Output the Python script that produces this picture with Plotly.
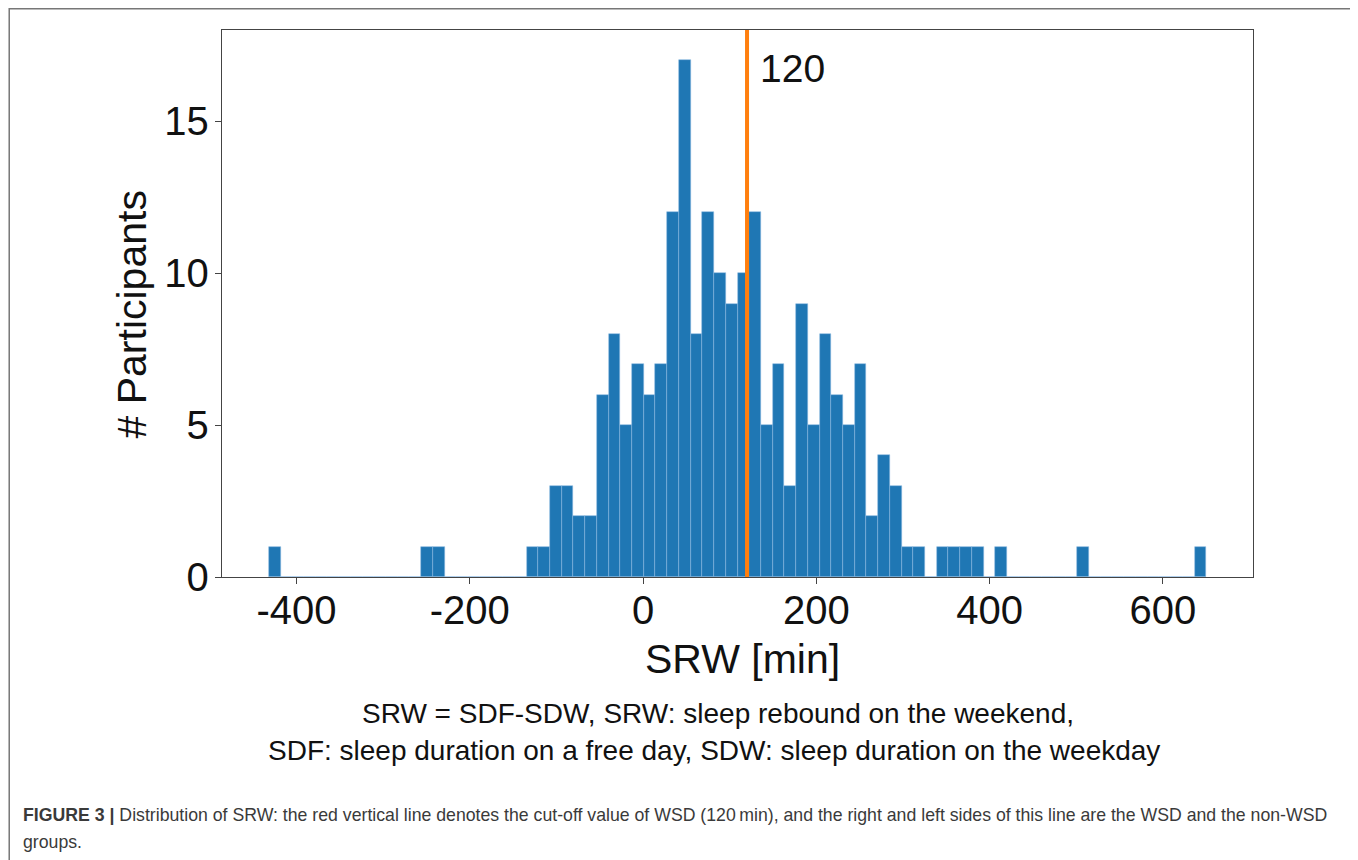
import numpy as np
import plotly.graph_objects as go

# ---- data ----
DATA_MIN = -432.0
DATA_MAX = 650.0
N_BINS = 80
counts = [
    1, 0, 0, 0, 0, 0, 0, 0, 0, 0,      # bins 0-9
    0, 0, 0, 1, 1, 0, 0, 0, 0, 0,      # bins 10-19
    0, 0, 1, 1, 3, 3, 2, 2, 6, 8,      # bins 20-29
    5, 7, 6, 7, 12, 17, 8, 12, 10, 9,  # bins 30-39
    10, 12, 5, 7, 3, 9, 5, 8, 6, 5,    # bins 40-49
    7, 2, 4, 3, 1, 1, 0, 1, 1, 1,      # bins 50-59
    1, 0, 1, 0, 0, 0, 0, 0, 0, 1,      # bins 60-69
    0, 0, 0, 0, 0, 0, 0, 0, 0, 1,      # bins 70-79
]
cutoff = 120
x_ticks = [-400, -200, 0, 200, 400, 600]
x_tick_labels = ["-400", "-200", "0", "200", "400", "600"]
y_ticks = [0, 5, 10, 15]

edges = np.linspace(DATA_MIN, DATA_MAX, N_BINS + 1)
centers = (edges[:-1] + edges[1:]) / 2
bin_w = edges[1] - edges[0]

# the page body has an 8px default margin, so work in shifted coordinates
OFF = 8
W, H = 1358 - OFF, 860 - OFF
L, R, T, B = 221.7 - OFF, 1253.3 - OFF, 30.0 - OFF, 576.7 - OFF
FONT = "Liberation Sans, Arial, Helvetica, sans-serif"


def px(x):
    return (x - OFF - L) / (R - L)


def py(y):
    return (B - (y - OFF)) / (B - T)


fig = go.Figure()
fig.add_trace(go.Bar(
    x=centers, y=counts, width=bin_w,
    marker=dict(color="#1f77b4", line=dict(color="rgba(140,185,225,0.9)", width=0.6)),
    showlegend=False,
))

fig.add_shape(type="line", xref="x", yref="paper", x0=cutoff, x1=cutoff, y0=0, y1=1,
              line=dict(color="#ff7f0e", width=4), layer="above")

axis_common = dict(
    showline=True, mirror=True, linecolor="#444", linewidth=1.3,
    ticks="outside", ticklen=6, tickwidth=1.2, tickcolor="#444",
    showgrid=False, zeroline=False,
    tickfont=dict(family=FONT, size=40, color="#111"),
)
fig.update_xaxes(range=[-486, 704], tickvals=x_ticks, ticktext=x_tick_labels,
                 ticklabelstandoff=-8, **axis_common)
fig.update_yaxes(range=[0, 18], tickvals=y_ticks, ticklabelstandoff=-2, **axis_common)

ann = []
ann.append(dict(text="120", x=133, xref="x", y=py(68), yref="paper",
                xanchor="left", yanchor="middle", showarrow=False,
                font=dict(family=FONT, size=39, color="#111")))
ann.append(dict(text="SRW [min]", x=px(743), y=py(659), xref="paper", yref="paper",
                xanchor="center", yanchor="middle", showarrow=False,
                font=dict(family=FONT, size=41, color="#111")))
ann.append(dict(text="# Participants", x=px(132), y=py(314), xref="paper", yref="paper",
                xanchor="center", yanchor="middle", showarrow=False, textangle=-90,
                font=dict(family=FONT, size=41, color="#111")))
ann.append(dict(text="SRW = SDF-SDW, SRW: sleep rebound on the weekend,",
                x=px(718), y=py(713), xref="paper", yref="paper",
                xanchor="center", yanchor="middle", showarrow=False,
                font=dict(family=FONT, size=28, color="#111")))
ann.append(dict(text="SDF: sleep duration on a free day, SDW: sleep duration on the weekday",
                x=px(714), y=py(750), xref="paper", yref="paper",
                xanchor="center", yanchor="middle", showarrow=False,
                font=dict(family=FONT, size=28, color="#111")))
ann.append(dict(text="<b>FIGURE 3 |</b> Distribution of SRW: the red vertical line denotes the cut-off value of WSD (120\u2009min), and the right and left sides of this line are the WSD and the non-WSD",
                x=px(21), y=py(815), xref="paper", yref="paper",
                xanchor="left", yanchor="middle", showarrow=False,
                font=dict(family=FONT, size=17.7, color="#3a3a3a")))
ann.append(dict(text="groups.",
                x=px(21), y=py(842), xref="paper", yref="paper",
                xanchor="left", yanchor="middle", showarrow=False,
                font=dict(family=FONT, size=17.7, color="#3a3a3a")))
fig.update_layout(annotations=ann)

# outer figure frame
fig.add_shape(type="rect", xref="paper", yref="paper",
              x0=px(8.8), x1=px(1354.5), y0=py(880), y1=py(8.8),
              line=dict(color="#777", width=1.5), fillcolor="rgba(0,0,0,0)", layer="below")

fig.update_layout(
    width=W, height=H, autosize=False,
    margin=dict(l=L, r=W - R, t=T, b=H - B, pad=0),
    paper_bgcolor="white", plot_bgcolor="white",
    bargap=0,
)

fig.write_html("out.html")
